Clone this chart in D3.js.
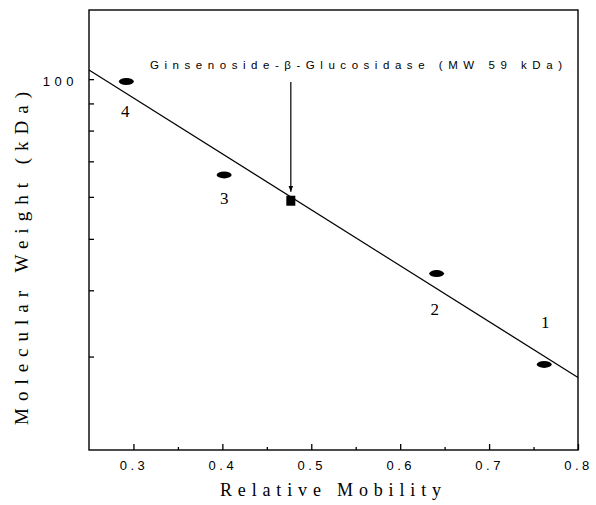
<!DOCTYPE html>
<html>
<head>
<meta charset="utf-8">
<script src="https://cdn.jsdelivr.net/npm/d3@7"></script>
<style>
	body { margin: 0; background: #fff; }
	svg { display: block; }
</style>
</head>
<body>
<script>

// marker proteins (relative mobility, MW kDa)
var markerLabels = ["1", "2", "3", "4"];
var markerMobility = [0.762, 0.641, 0.402, 0.292];
var markerMW = [29, 43, 66, 99];

// target enzyme
var enzymeMobility = 0.477;
var enzymeMW = 59;

// fitted line end points
var fitMobility = [0.25, 0.8];
var fitMW = [104, 27.4];

var xTicks = [0.3, 0.4, 0.5, 0.6, 0.7, 0.8];
var xMinorTicks = [0.35, 0.45, 0.55, 0.65, 0.75];
var yTicks = [30, 40, 50, 60, 70, 80, 90, 100];

var width = 596, height = 505;
var margin = {left: 89, right: 18, top: 10, bottom: 55};
var plotwidth = width - margin.left - margin.right,
	plotheight = height - margin.top - margin.bottom;

var svg = d3.select("body").append("svg")
	.attr("width", width)
	.attr("height", height);

var plotarea = svg.append("g")
	.attr("transform", "translate(" + margin.left + "," + margin.top + ")");

var x = d3.scaleLinear()
	.domain([0.25, 0.8])
	.range([0, plotwidth]);

var y = d3.scaleLog()
	.domain([20, 135])
	.range([plotheight, 0]);

// frame
plotarea.append("rect")
	.attr("width", plotwidth)
	.attr("height", plotheight)
	.attr("fill", "none")
	.attr("stroke", "#000")
	.attr("stroke-width", 1.4);

// x axis ticks (pointing inward)
var xAxis = d3.axisBottom(x)
	.tickValues(xTicks)
	.tickSize(-6)
	.tickPadding(11)
	.tickFormat(d3.format(".1f"));

var gx = plotarea.append("g")
	.attr("transform", "translate(0," + plotheight + ")")
	.call(xAxis);
gx.select(".domain").remove();
gx.selectAll("text")
	.attr("font-family", "Liberation Sans, Arial, sans-serif")
	.attr("font-size", 13)
	.attr("letter-spacing", 3.5)
	.attr("fill", "#000");

plotarea.append("g")
	.attr("transform", "translate(0," + plotheight + ")")
	.call(d3.axisBottom(x).tickValues(xMinorTicks).tickSize(-3).tickFormat(""))
	.select(".domain").remove();

// y axis ticks (pointing inward), only 100 labelled
var yAxis = d3.axisLeft(y)
	.tickValues(yTicks)
	.tickSize(-5)
	.tickPadding(11)
	.tickFormat(function(d) { return d == 100 ? "100" : ""; });

var gy = plotarea.append("g").call(yAxis);
gy.select(".domain").remove();
gy.selectAll("text")
	.attr("font-family", "Liberation Sans, Arial, sans-serif")
	.attr("font-size", 13)
	.attr("letter-spacing", 4.5)
	.attr("dy", "0.45em")
	.attr("fill", "#000");
plotarea.selectAll(".tick line").attr("stroke-width", 1.3);

// fitted line
var line = d3.line()
	.x(function(d) { return x(d[0]); })
	.y(function(d) { return y(d[1]); });

plotarea.append("path")
	.datum(d3.zip(fitMobility, fitMW))
	.attr("d", line)
	.attr("fill", "none")
	.attr("stroke", "#000")
	.attr("stroke-width", 1.2);

// marker bands
var markers = d3.range(markerLabels.length).map(function(i) {
	return {label: markerLabels[i], mob: markerMobility[i], mw: markerMW[i]};
});

plotarea.selectAll(".band")
	.data(markers)
	.enter()
	.append("ellipse")
	.attr("class", "band")
	.attr("cx", function(d) { return x(d.mob); })
	.attr("cy", function(d) { return y(d.mw); })
	.attr("rx", 7.5)
	.attr("ry", 3.5)
	.attr("fill", "#000");

// number labels sit below (3, 4) or above (1, 2) their band
var labelOffset = {"1": [1, -36], "2": [-2, 41], "3": [0, 29], "4": [-1, 36]};

plotarea.selectAll(".num")
	.data(markers)
	.enter()
	.append("text")
	.attr("class", "num")
	.attr("x", function(d) { return x(d.mob) + labelOffset[d.label][0]; })
	.attr("y", function(d) { return y(d.mw) + labelOffset[d.label][1]; })
	.attr("text-anchor", "middle")
	.attr("font-family", "Liberation Serif, Times New Roman, serif")
	.attr("font-size", 17)
	.text(function(d) { return d.label; });

// enzyme square + arrow
var ex = x(enzymeMobility), ey = y(enzymeMW);
plotarea.append("rect")
	.attr("x", ex - 4.5)
	.attr("y", ey - 5)
	.attr("width", 9)
	.attr("height", 10)
	.attr("fill", "#000");

svg.append("defs").append("marker")
	.attr("id", "head")
	.attr("viewBox", "0 0 10 10")
	.attr("refX", 10)
	.attr("refY", 5)
	.attr("markerWidth", 5)
	.attr("markerHeight", 6)
	.attr("orient", "auto")
	.append("path")
	.attr("d", "M0,1 L10,5 L0,9 Z")
	.attr("fill", "#000");

plotarea.append("line")
	.attr("x1", ex)
	.attr("x2", ex)
	.attr("y1", 72)
	.attr("y2", ey - 9)
	.attr("stroke", "#000")
	.attr("stroke-width", 1.2)
	.attr("marker-end", "url(#head)");

plotarea.append("text")
	.attr("x", 61)
	.attr("y", 59)
	.attr("textLength", 412)
	.attr("lengthAdjust", "spacing")
	.attr("font-family", "Liberation Sans, Arial, sans-serif")
	.attr("font-size", 11.5)
	.text("Ginsenoside-\u03b2-Glucosidase (MW 59 kDa)");

// axis titles
svg.append("text")
	.attr("x", 220)
	.attr("y", 496)
	.attr("textLength", 221)
	.attr("lengthAdjust", "spacing")
	.attr("font-family", "Liberation Serif, Times New Roman, serif")
	.attr("font-size", 18)
	.text("Relative Mobility");

svg.append("text")
	.attr("transform", "translate(28,425) rotate(-90)")
	.attr("textLength", 333)
	.attr("lengthAdjust", "spacing")
	.attr("font-family", "Liberation Serif, Times New Roman, serif")
	.attr("font-size", 19)
	.text("Molecular Weight (kDa)");

</script>
</body>
</html>
